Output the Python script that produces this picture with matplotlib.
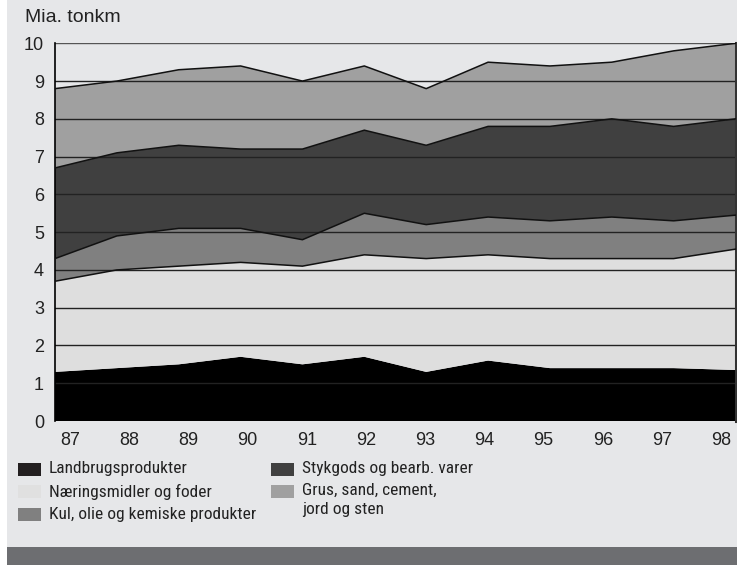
import numpy as np
import matplotlib
matplotlib.use("Agg")
import matplotlib.pyplot as plt
from matplotlib.patches import Rectangle
from matplotlib import font_manager

# Godstransport, mia. tonkm, fordelt på varegrupper
years = [87, 88, 89, 90, 91, 92, 93, 94, 95, 96, 97, 98]
landbrug = [1.3, 1.4, 1.5, 1.7, 1.5, 1.7, 1.3, 1.6, 1.4, 1.4, 1.4, 1.35]
naering = [2.4, 2.6, 2.6, 2.5, 2.6, 2.7, 3.0, 2.8, 2.9, 2.9, 2.9, 3.2]
kul = [0.6, 0.9, 1.0, 0.9, 0.7, 1.1, 0.9, 1.0, 1.0, 1.1, 1.0, 0.9]
stykgods = [2.4, 2.2, 2.2, 2.1, 2.4, 2.2, 2.1, 2.4, 2.5, 2.6, 2.5, 2.55]
grus = [2.1, 1.9, 2.0, 2.2, 1.8, 1.7, 1.5, 1.7, 1.6, 1.5, 2.0, 2.0]

y_ticks = [0, 1, 2, 3, 4, 5, 6, 7, 8, 9, 10]
y_label = "Mia. tonkm"

labels = ["Landbrugsprodukter", "Næringsmidler og foder",
          "Kul, olie og kemiske produkter", "Stykgods og bearb. varer",
          "Grus, sand, cement,\njord og sten"]
colors = ["#000000", "#dedede", "#808080", "#404040", "#a0a0a0"]
legend_colors = ["#231f20", "#e0e0e0", "#808080", "#404040", "#a0a0a0"]

BG = "#e6e7e9"
W, H = 737, 565

plt.rcParams["font.family"] = ["Liberation Sans", "DejaVu Sans"]

# narrow face for the legend if one is installed
installed = {f.name for f in font_manager.fontManager.ttflist}
narrow = None
for cand in ["Liberation Sans Narrow", "Roboto Condensed", "Open Sans Condensed",
             "DejaVu Sans Condensed", "Noto Sans Condensed"]:
    if cand in installed:
        narrow = cand
        break
if narrow:
    leg_font = [narrow, "Liberation Sans", "DejaVu Sans"]
    leg_size = 12.5
else:
    leg_font = ["Liberation Sans", "DejaVu Sans"]
    leg_size = 10.5

fig = plt.figure(figsize=(W / 100, H / 100), dpi=100, facecolor=BG)

# white strip along the left edge and dark band at the bottom
fig.patches.append(Rectangle((0, 0), 7 / W, 1, transform=fig.transFigure,
                             facecolor="white", edgecolor="none", zorder=0))
fig.patches.append(Rectangle((7 / W, 0), 1 - 7 / W, 18.5 / H, transform=fig.transFigure,
                             facecolor="#6d6e71", edgecolor="none", zorder=0))

ax = fig.add_axes([55 / W, (H - 421) / H, (735.5 - 55) / W, (421 - 43.3) / H])
ax.set_facecolor(BG)

series = [landbrug, naering, kul, stykgods, grus]
ax.stackplot(years, *series, colors=colors, linewidth=0, zorder=1)

# layer boundaries
cum = np.cumsum(np.array(series), axis=0)
for i in range(1, len(series)):
    ax.plot(years, cum[i], color="#111111", lw=1.1, zorder=3)

ax.set_xlim(years[0], years[-1])
ax.set_ylim(0, 10)

for yv in y_ticks[1:]:
    ax.axhline(yv, color="#222222" if yv < 10 else "#555555", lw=1.0, zorder=2)

ax.set_yticks(y_ticks)
ax.set_yticklabels([str(v) for v in y_ticks], fontsize=13, color="#222222")
# year labels sit slightly inside the plot ends
xt = np.linspace(years[0] + 0.24, years[-1] - 0.23, len(years))
ax.set_xticks(xt)
ax.set_xticklabels([str(y) for y in years], fontsize=13, color="#222222")
ax.tick_params(axis="x", length=0, pad=8)
ax.tick_params(axis="y", length=0, pad=8)

for s in ["top", "bottom"]:
    ax.spines[s].set_visible(False)
ax.spines["left"].set_color("#000000")
ax.spines["left"].set_linewidth(1.2)
ax.spines["right"].set_color("#333333")
ax.spines["right"].set_linewidth(2.2)

fig.text(25 / W, 1 - 18 / H, y_label, fontsize=14, color="#222222",
         va="center", ha="left")

# legend
rows_y = [469, 491.5, 514, 469, 491.5]
patch_x = [18, 18, 18, 271, 271]
for lab, col, px, ry in zip(labels, legend_colors, patch_x, rows_y):
    fig.patches.append(Rectangle((px / W, 1 - (ry + 6.5) / H), 22.5 / W, 13 / H,
                                 transform=fig.transFigure, facecolor=col,
                                 edgecolor="none", zorder=2))
    if "\n" in lab:
        fig.text((px + 31) / W, 1 - (ry - 9) / H, lab, fontsize=leg_size,
                 color="#222222", family=leg_font, va="top", ha="left",
                 linespacing=1.35)
    else:
        fig.text((px + 31) / W, 1 - ry / H, lab, fontsize=leg_size,
                 color="#222222", family=leg_font, va="center", ha="left")

fig.savefig("out.png", dpi=100, facecolor=BG)
